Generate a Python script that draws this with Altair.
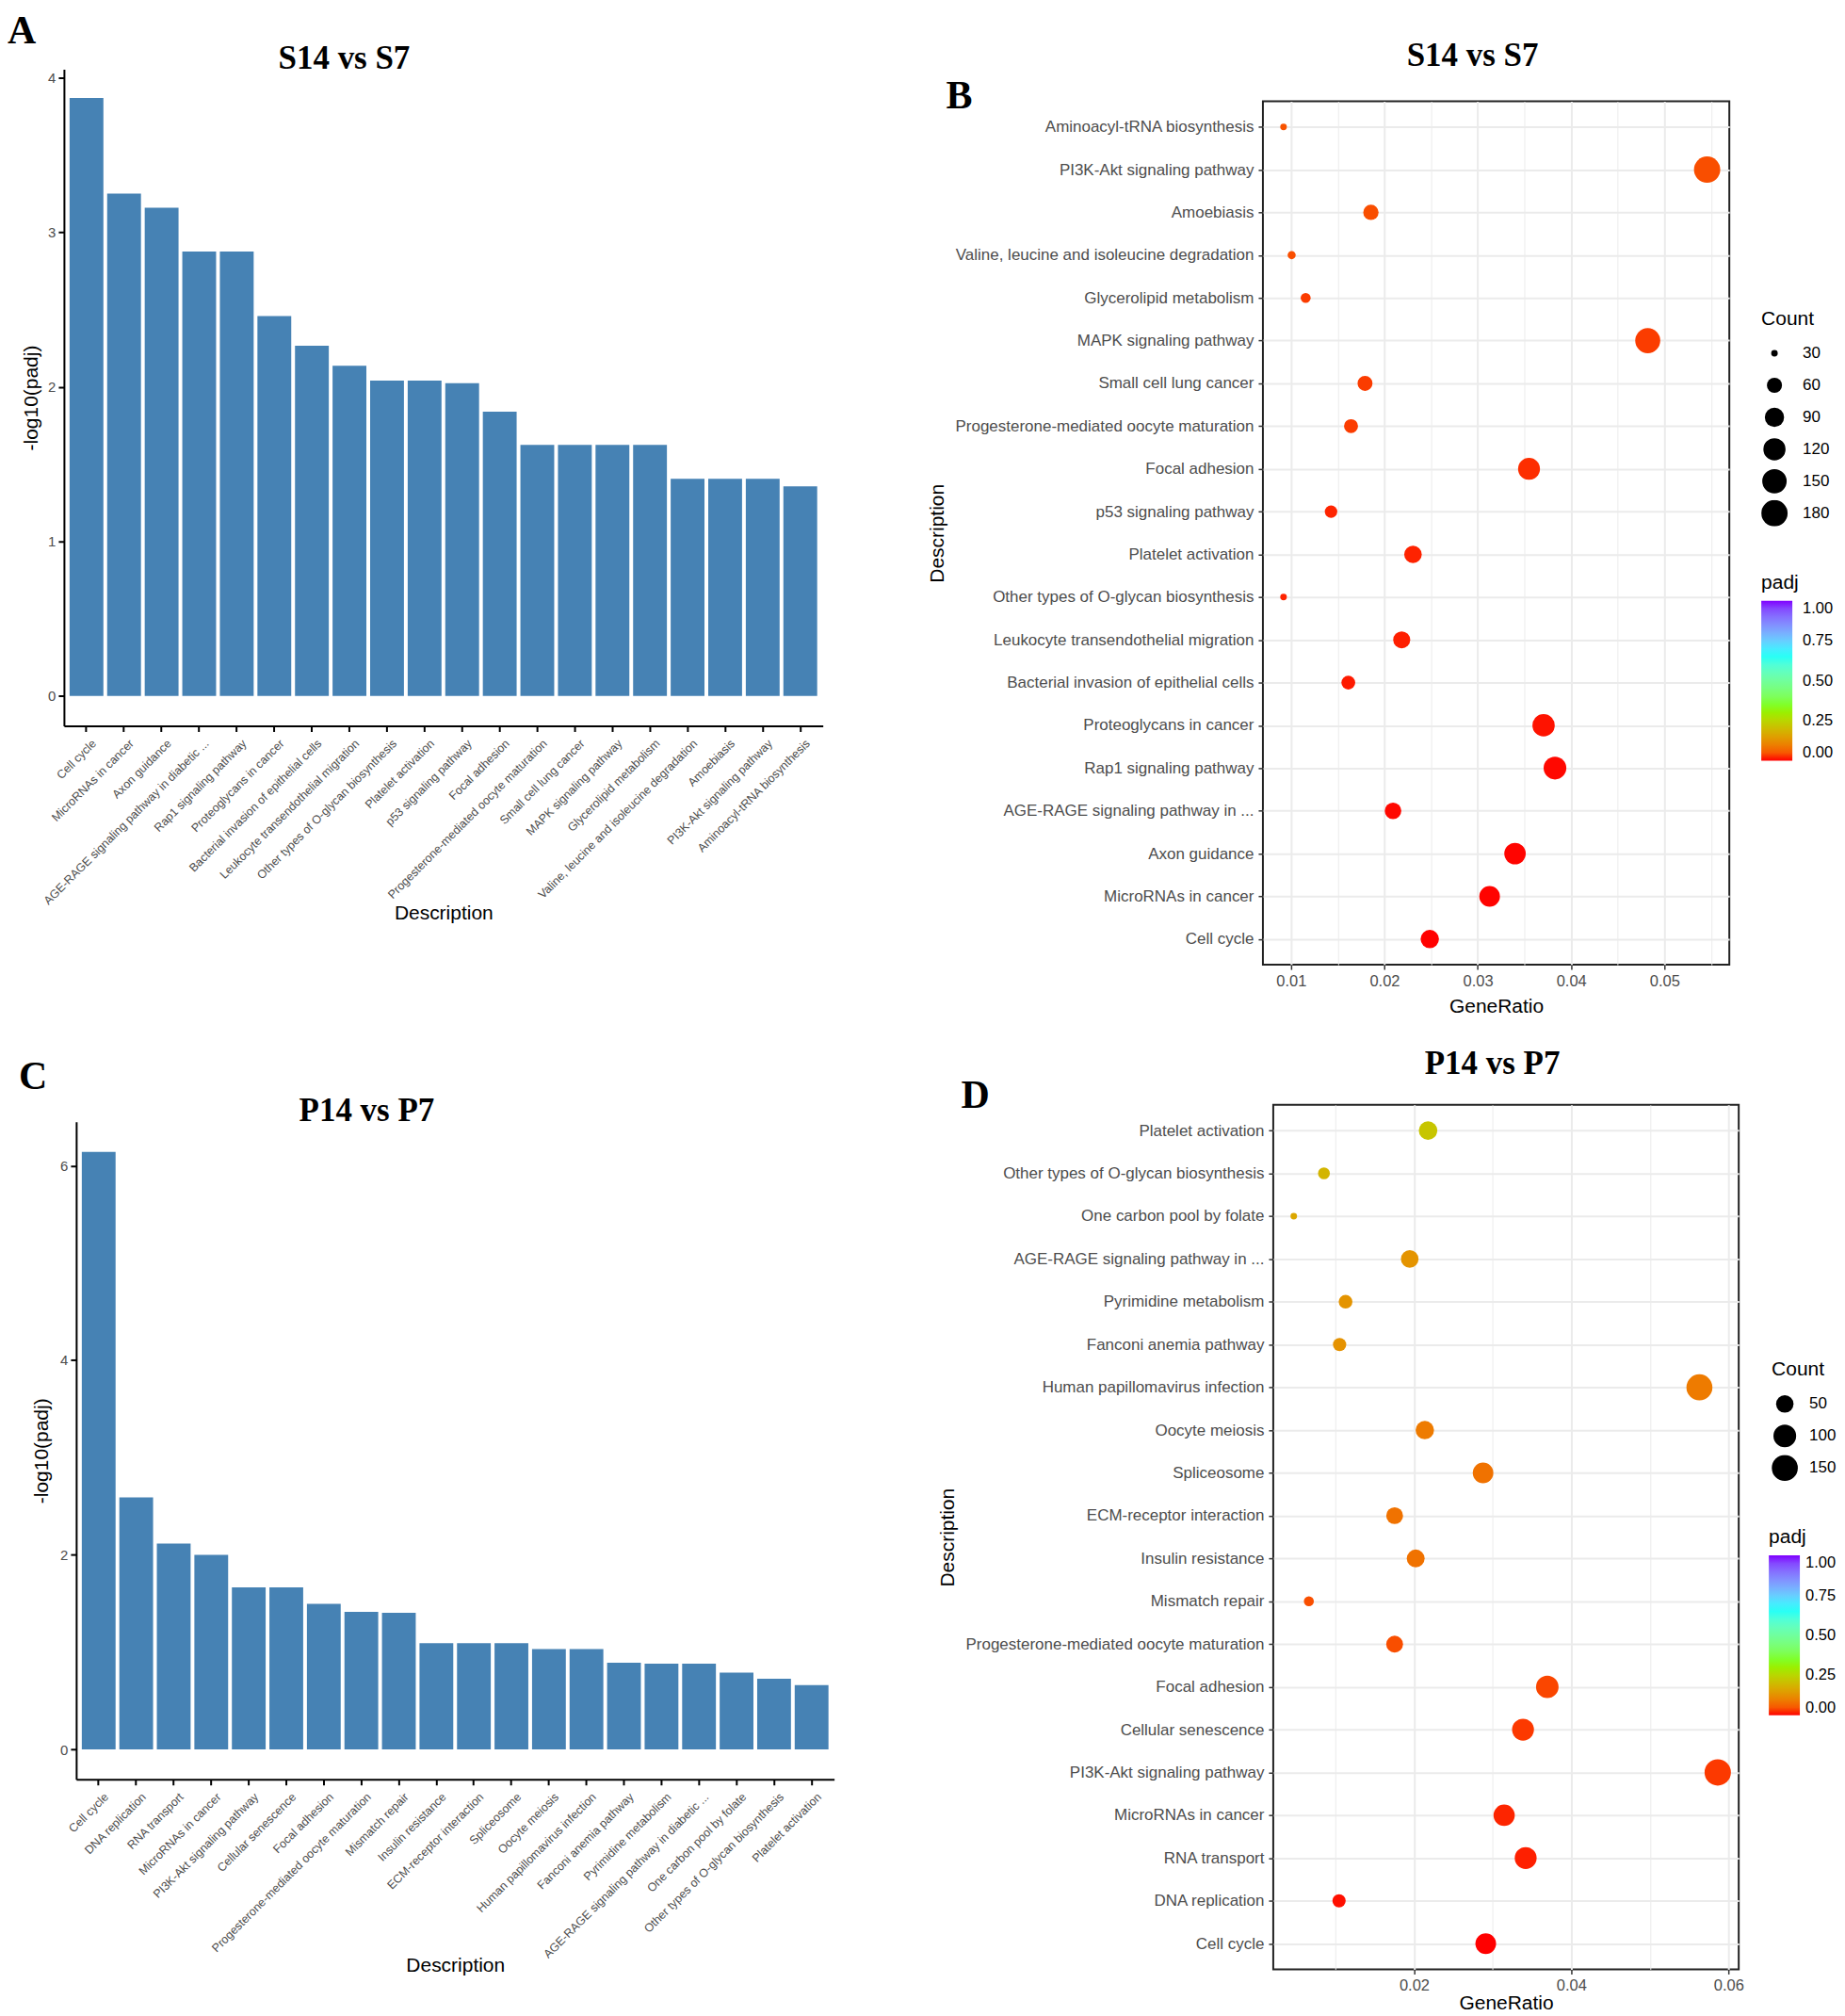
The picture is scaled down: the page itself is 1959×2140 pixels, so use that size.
import altair as alt
import pandas as pd

FONT = "Liberation Sans"
SERIF = "Liberation Serif"
BLUE = "#4682B4"
GRID = "#EBEBEB"
TICKTXT = "#4D4D4D"

# ---------------- data : S14 vs S7 ----------------
a_terms = ["Cell cycle", "MicroRNAs in cancer", "Axon guidance",
           "AGE-RAGE signaling pathway in diabetic ...", "Rap1 signaling pathway",
           "Proteoglycans in cancer", "Bacterial invasion of epithelial cells",
           "Leukocyte transendothelial migration", "Other types of O-glycan biosynthesis",
           "Platelet activation", "p53 signaling pathway", "Focal adhesion",
           "Progesterone-mediated oocyte maturation", "Small cell lung cancer",
           "MAPK signaling pathway", "Glycerolipid metabolism",
           "Valine, leucine and isoleucine degradation", "Amoebiasis",
           "PI3K-Akt signaling pathway", "Aminoacyl-tRNA biosynthesis"]
a_neglog10 = [3.87, 3.25, 3.16, 2.876, 2.876, 2.459, 2.266, 2.136, 2.041, 2.041,
              2.024, 1.840, 1.625, 1.625, 1.625, 1.625, 1.405, 1.405, 1.405, 1.356]

b_terms = ["Aminoacyl-tRNA biosynthesis", "PI3K-Akt signaling pathway", "Amoebiasis",
           "Valine, leucine and isoleucine degradation", "Glycerolipid metabolism",
           "MAPK signaling pathway", "Small cell lung cancer",
           "Progesterone-mediated oocyte maturation", "Focal adhesion",
           "p53 signaling pathway", "Platelet activation",
           "Other types of O-glycan biosynthesis", "Leukocyte transendothelial migration",
           "Bacterial invasion of epithelial cells", "Proteoglycans in cancer",
           "Rap1 signaling pathway", "AGE-RAGE signaling pathway in ...", "Axon guidance",
           "MicroRNAs in cancer", "Cell cycle"]
b_generatio = [0.00919, 0.05457, 0.01855, 0.01006, 0.01156, 0.04821, 0.01792, 0.01642,
               0.03549, 0.01428, 0.02306, 0.00919, 0.02185, 0.01613, 0.03705, 0.03827,
               0.02092, 0.03399, 0.03127, 0.02486]
b_count = [30, 180, 61, 33, 38, 159, 59, 54, 117, 47, 76, 30, 72, 53, 122, 126, 69, 112, 103, 82]
b_padj = [0.0441, 0.0394, 0.0394, 0.0394, 0.0237, 0.0237, 0.0237, 0.0237, 0.0145, 0.00946,
          0.0091, 0.0091, 0.00731, 0.00542, 0.00348, 0.00133, 0.00133, 0.00069, 0.00056, 0.000135]

# ---------------- data : P14 vs P7 ----------------
c_terms = ["Cell cycle", "DNA replication", "RNA transport", "MicroRNAs in cancer",
           "PI3K-Akt signaling pathway", "Cellular senescence", "Focal adhesion",
           "Progesterone-mediated oocyte maturation", "Mismatch repair", "Insulin resistance",
           "ECM-receptor interaction", "Spliceosome", "Oocyte meiosis",
           "Human papillomavirus infection", "Fanconi anemia pathway", "Pyrimidine metabolism",
           "AGE-RAGE signaling pathway in diabetic ...", "One carbon pool by folate",
           "Other types of O-glycan biosynthesis", "Platelet activation"]
c_neglog10 = [6.14, 2.59, 2.116, 2.0, 1.665, 1.665, 1.496, 1.413, 1.403, 1.091,
              1.091, 1.091, 1.032, 1.032, 0.892, 0.882, 0.882, 0.789, 0.726, 0.660]

d_terms = ["Platelet activation", "Other types of O-glycan biosynthesis",
           "One carbon pool by folate", "AGE-RAGE signaling pathway in ...",
           "Pyrimidine metabolism", "Fanconi anemia pathway", "Human papillomavirus infection",
           "Oocyte meiosis", "Spliceosome", "ECM-receptor interaction", "Insulin resistance",
           "Mismatch repair", "Progesterone-mediated oocyte maturation", "Focal adhesion",
           "Cellular senescence", "PI3K-Akt signaling pathway", "MicroRNAs in cancer",
           "RNA transport", "DNA replication", "Cell cycle"]
d_generatio = [0.02178, 0.00854, 0.0047, 0.01945, 0.01129, 0.01053, 0.0563, 0.02137,
               0.02878, 0.01753, 0.02021, 0.00662, 0.01753, 0.03695, 0.03386, 0.05863,
               0.03146, 0.0342, 0.01046, 0.02912]
d_count = [58, 23, 12, 51, 30, 28, 149, 57, 76, 46, 53, 18, 46, 98, 90, 155, 83, 90, 28, 77]
d_padj = [0.219, 0.188, 0.163, 0.131, 0.131, 0.128, 0.0929, 0.0929, 0.0811, 0.0811,
          0.0811, 0.0395, 0.0386, 0.0319, 0.0216, 0.0216, 0.0100, 0.00766, 0.00257, 7.2e-7]

# ---------------- scales / guides ----------------
padj_stops = [0, 1 / 3, 2 / 3, 1]
padj_colors = ["#FF0000", "#80FF00", "#00FFFF", "#8000FF"]
padj_breaks = [0, 0.25, 0.5, 0.75, 1]
b_count_breaks = [30, 60, 90, 120, 150, 180]
d_count_breaks = [50, 100, 150]
b_x_grid = [0.01, 0.015, 0.02, 0.025, 0.03, 0.035, 0.04, 0.045, 0.05, 0.055]
d_x_grid = [0.01, 0.02, 0.03, 0.04, 0.05, 0.06]

one = pd.DataFrame({"k": [0]})


def box(x1, x2, y1, y2):
    # invisible frame that fixes each panel's bounding box in the grid
    return alt.Chart(one).mark_rect(opacity=0).encode(
        x=alt.value(x1), x2=alt.value(x2), y=alt.value(y1), y2=alt.value(y2))


def text_at(s, x, y, size, align):
    return alt.Chart(one).mark_text(
        text=s, font=SERIF, fontSize=size, fontWeight="bold", align=align,
        baseline="alphabetic", color="black").encode(x=alt.value(x), y=alt.value(y))


def bar_panel(terms, vals, ydom, yticks, W, H, xrange, yrange, yoff, ytx, xty,
              letter, lx, ly, title, tx, ty, bx):
    df = pd.DataFrame({"Description": terms, "value": vals})
    bars = alt.Chart(df).mark_bar(color=BLUE).encode(
        x=alt.X("Description:N", sort=terms,
                scale=alt.Scale(paddingInner=0.1, paddingOuter=0.15, range=xrange),
                axis=alt.Axis(title="Description", labelAngle=315, labelAlign="right",
                              labelBaseline="top", labelFontSize=12.5, labelColor=TICKTXT,
                              labelLimit=400, labelPadding=6, labelOffset=4,
                              tickSize=6, tickWidth=2, tickColor="black",
                              domainColor="black", domainWidth=2,
                              titleFontSize=21, titleFontWeight="normal", titleColor="black",
                              titleBaseline="top", titleY=xty,
                              titleX=(xrange[0] + xrange[1]) / 2, grid=False)),
        y=alt.Y("value:Q", scale=alt.Scale(domain=ydom, nice=False, zero=False, range=yrange),
                axis=alt.Axis(title="-log10(padj)", values=yticks, format="d", offset=yoff,
                              labelFontSize=15, labelColor=TICKTXT, labelPadding=3,
                              tickSize=6, tickWidth=2, tickColor="black",
                              domainColor="black", domainWidth=2,
                              titleFontSize=21, titleFontWeight="normal", titleColor="black",
                              titleX=ytx, titleY=(yrange[0] + yrange[1]) / 2, grid=False)),
        y2=alt.datum(0),
    )
    return alt.layer(box(*bx), bars, text_at(letter, lx, ly, 42, "left"),
                     text_at(title, tx, ty, 35, "center")).properties(width=W, height=H)


def dot_panel(terms, ratio, count, padj, xdom, xgrid, major, W, H, breaks, cnt_xy, padj_xy,
              cnt_off, lab_off, ytx, xty, letter, lx, ly, title, tx, ty, bx):
    df = pd.DataFrame({"Description": terms, "GeneRatio": ratio, "Count": count, "padj": padj})
    pts = alt.Chart(df).mark_circle(opacity=1).encode(
        x=alt.X("GeneRatio:Q", scale=alt.Scale(domain=xdom, nice=False, zero=False),
                axis=alt.Axis(title="GeneRatio", values=xgrid,
                              labelExpr="(" + major + ") ? format(datum.value, '.2f') : ''",
                              labelFontSize=16.5, labelColor=TICKTXT, labelPadding=4,
                              labelOverlap=False, labelFlush=False,
                              tickSize=5, tickWidth=1.5, tickColor="#333333",
                              tickOpacity={"condition": {"test": major, "value": 1}, "value": 0},
                              grid=True, gridColor=GRID,
                              gridWidth={"condition": {"test": major, "value": 2}, "value": 1},
                              domain=False, titleFontSize=21, titleFontWeight="normal",
                              titleColor="black", titleBaseline="top", titleY=xty,
                              titleX=W / 2)),
        y=alt.Y("Description:N", sort=terms, scale=alt.Scale(padding=0.6),
                axis=alt.Axis(title="Description", labelFontSize=17, labelColor=TICKTXT,
                              labelLimit=500, labelPadding=5, tickSize=5, tickWidth=1.5,
                              tickColor="#333333", grid=True, gridColor=GRID, gridWidth=2,
                              domain=False, titleFontSize=21, titleFontWeight="normal",
                              titleColor="black", titleX=ytx, titleY=H / 2)),
        size=alt.Size("Count:Q",
                      scale=alt.Scale(type="sqrt", domain=[min(count), max(count)],
                                      range=[49, 784], zero=False),
                      legend=alt.Legend(title="Count", orient="none", legendX=cnt_xy[0],
                                        legendY=cnt_xy[1], direction="vertical", values=breaks,
                                        symbolType="circle", symbolFillColor="black",
                                        symbolStrokeWidth=0, symbolOpacity=1, clipHeight=28,
                                        rowPadding=6, labelOffset=cnt_off, titlePadding=12,
                                        padding=0, titleFontSize=21, titleFontWeight="normal",
                                        titleColor="black", labelFontSize=17,
                                        labelColor="black")),
        color=alt.Color("padj:Q",
                        scale=alt.Scale(domain=padj_stops, range=padj_colors, interpolate="lab"),
                        legend=alt.Legend(title="padj", orient="none", legendX=padj_xy[0],
                                          legendY=padj_xy[1], direction="vertical",
                                          values=padj_breaks, format=".2f", gradientLength=170,
                                          gradientThickness=33, gradientStrokeWidth=0,
                                          labelOffset=lab_off, titlePadding=9, padding=0,
                                          titleFontSize=21, titleFontWeight="normal",
                                          titleColor="black", labelFontSize=16.5,
                                          labelColor="black")),
    )
    return alt.layer(box(*bx), pts, text_at(letter, lx, ly, 42, "left"),
                     text_at(title, tx, ty, 35, "center")).properties(
        width=W, height=H, view=alt.ViewBackground(stroke="#222222", strokeWidth=2))


# panel A: group origin at page (68, 105); visible plot starts 34 px above the group
A = bar_panel(a_terms, a_neglog10, [-0.193, 4.055], [0, 1, 2, 3, 4], 807, 664,
              [0, 807], [664, -34], 0, -24, 188,
              "A", -60, -62, "S14 vs S7", 298, -35, (-60, 832, -97, 975))
# panel B: origin at page (1342, 105)
B = dot_panel(b_terms, b_generatio, b_count, b_padj, [0.00698, 0.05695], b_x_grid,
              "round(datum.value*1000) % 10 == 0", 496, 918, b_count_breaks, (530, 221),
              (530, 501), 16, 11, -336, 34, "B", -337, 8, "S14 vs S7", 223, -38,
              (-442, 607, -97, 975))
# panel C: origin at page (68, 1189); visible plot starts 13 px right of the group
C = bar_panel(c_terms, c_neglog10, [-0.307, 6.45], [0, 2, 4, 6], 819, 699,
              [13, 819], [699, 0], -13, -26, 187,
              "C", -48, -35, "P14 vs P7", 322, -1, (-60, 832, -109, 941))
# panel D: origin at page (1353, 1170)
D = dot_panel(d_terms, d_generatio, d_count, d_padj, [0.00209, 0.0613], d_x_grid,
              "round(datum.value*100) % 2 == 0", 495, 919, d_count_breaks, (530, 271),
              (527, 449), 12, 6, -336, 25, "D", -332, 3, "P14 vs P7", 233, -33,
              (-453, 596, -90, 960))

chart = alt.concat(A, B, C, D, columns=2, spacing=0, align="none", bounds="full",
                   padding=0).resolve_scale(color="independent", size="independent")
chart = chart.configure(font=FONT).configure_view(strokeWidth=0)

chart.save("out.html", embed_options={"renderer": "svg", "actions": False})
